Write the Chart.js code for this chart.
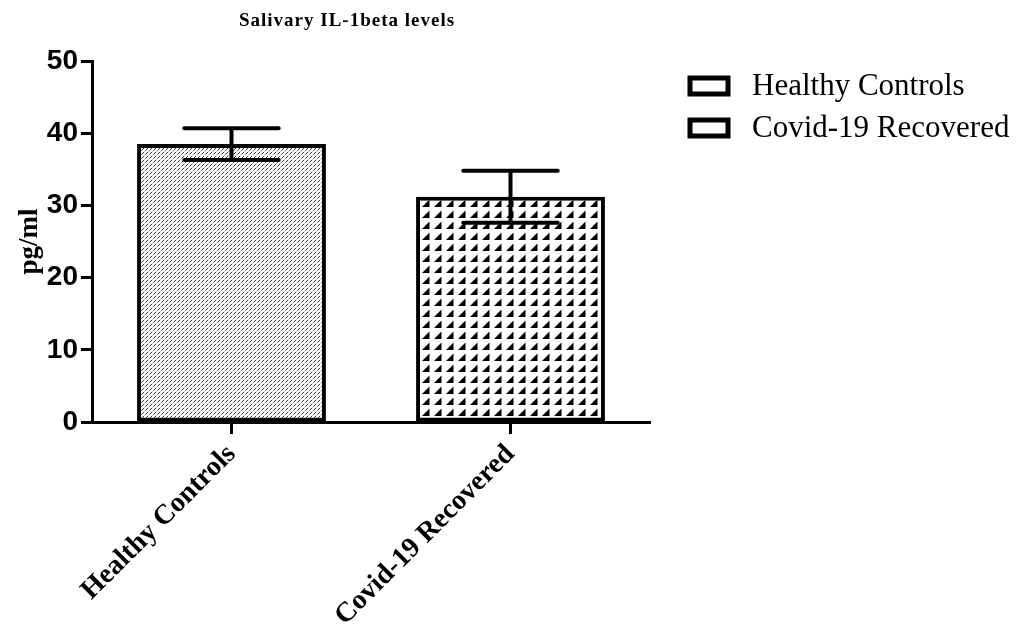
<!DOCTYPE html>
<html>
<head>
<meta charset="utf-8">
<script src="https://cdn.jsdelivr.net/npm/chart.js@4"></script>
<style>
  body { margin: 0; background: #fff; }
  #wrap { width: 1017px; height: 625px; }
</style>
</head>
<body>
<div id="wrap"><canvas id="chart"></canvas></div>
<script>
// data
const categories = ["Healthy Controls", "Covid-19 Recovered"];
const means = [38.5, 31.2];
const errors = [2.2, 3.6];
const yTicks = [0, 10, 20, 30, 40, 50];
const chartTitle = "Salivary IL-1beta levels";
const yTitle = "pg/ml";

// fill patterns
function stipple() {
  var c = document.createElement("canvas");
  c.width = 4; c.height = 4;
  var g = c.getContext("2d");
  g.fillStyle = "#fff";
  g.fillRect(0, 0, 4, 4);
  g.fillStyle = "#333";
  g.fillRect(3, 0, 1, 1);
  g.fillRect(2, 1, 1, 1);
  g.fillStyle = "#777";
  g.fillRect(1, 2, 1, 1);
  g.fillStyle = "#bbb";
  g.fillRect(0, 3, 1, 1);
  return g.createPattern(c, "repeat");
}
function triangles() {
  var c = document.createElement("canvas");
  c.width = 12; c.height = 11;
  var g = c.getContext("2d");
  g.fillStyle = "#fff";
  g.fillRect(0, 0, 12, 11);
  g.fillStyle = "#000";
  g.beginPath();
  g.moveTo(2, 9);
  g.lineTo(9.5, 9);
  g.lineTo(9.5, 1.5);
  g.closePath();
  g.fill();
  return g.createPattern(c, "repeat");
}
const fills = [stipple(), triangles()];

const errorBars = {
  id: "errorBars",
  afterDatasetsDraw(chart) {
    var ctx = chart.ctx;
    var meta = chart.getDatasetMeta(0);
    var y = chart.scales.y;
    ctx.save();
    ctx.strokeStyle = "#000";
    ctx.lineWidth = 4;
    ctx.lineCap = "round";
    meta.data.forEach(function (bar, i) {
      var top = y.getPixelForValue(means[i] + errors[i]);
      var bot = y.getPixelForValue(means[i] - errors[i]);
      var half = bar.width / 4;
      ctx.beginPath();
      ctx.moveTo(bar.x, bot); ctx.lineTo(bar.x, top);
      ctx.moveTo(bar.x - half, top); ctx.lineTo(bar.x + half, top);
      ctx.moveTo(bar.x - half, bot); ctx.lineTo(bar.x + half, bot);
      ctx.stroke();
    });
    ctx.restore();
  }
};

const extras = {
  id: "extras",
  afterDraw(chart) {
    var ctx = chart.ctx;
    var area = chart.chartArea;
    ctx.save();
    ctx.fillStyle = "#000";
    // title
    ctx.font = "bold 19px 'Liberation Serif'";
    ctx.letterSpacing = "1px";
    ctx.textAlign = "center";
    ctx.textBaseline = "middle";
    ctx.fillText(chartTitle, 347, 21);
    ctx.letterSpacing = "0px";
    // y title
    ctx.save();
    ctx.translate(30, (area.top + area.bottom) / 2);
    ctx.rotate(-Math.PI / 2);
    ctx.font = "bold 27px 'Liberation Serif'";
    ctx.fillText(yTitle, 0, 0);
    ctx.restore();
    // legend
    ctx.textAlign = "left";
    ctx.font = "31px 'Liberation Serif'";
    categories.forEach(function (lab, i) {
      var cy = 86 + i * 42;
      ctx.lineWidth = 5;
      ctx.strokeStyle = "#000";
      ctx.fillStyle = "#fff";
      ctx.beginPath();
      ctx.rect(690, cy - 8, 38, 16);
      ctx.fill();
      ctx.stroke();
      ctx.fillStyle = "#000";
      ctx.fillText(lab, 752, cy + 1);
    });
    ctx.restore();
  }
};

new Chart(document.getElementById("chart"), {
  type: "bar",
  data: {
    labels: categories,
    datasets: [{
      data: means,
      backgroundColor: fills,
      borderColor: "#000",
      borderWidth: 4,
      borderSkipped: false,
      barPercentage: 0.677,
      categoryPercentage: 1
    }]
  },
  options: {
    responsive: true,
    maintainAspectRatio: false,
    animation: false,
    layout: { padding: { top: 61, right: 367, left: 0, bottom: 0 } },
    plugins: {
      legend: { display: false },
      tooltip: { enabled: false }
    },
    scales: {
      x: {
        offset: true,
        grid: {
          display: true,
          offset: false,
          drawOnChartArea: false,
          drawTicks: true,
          tickLength: 12,
          tickWidth: 3,
          color: "#000"
        },
        border: { display: true, color: "#000", width: 3 },
        ticks: {
          color: "#000",
          minRotation: 45,
          maxRotation: 45,
          padding: 4,
          font: { family: "'Liberation Serif'", weight: "bold", size: 28 }
        },
        afterFit(scale) { scale.height = 203; }
      },
      y: {
        min: 0,
        max: 50,
        afterBuildTicks(scale) { scale.ticks = yTicks.map(function (v) { return { value: v }; }); },
        grid: {
          display: true,
          drawOnChartArea: false,
          drawTicks: true,
          tickLength: 11,
          tickWidth: 3,
          color: "#000"
        },
        border: { display: true, color: "#000", width: 3 },
        ticks: {
          color: "#000",
          padding: 3,
          font: { family: "'Liberation Sans'", weight: "bold", size: 28 }
        },
        afterFit(scale) { scale.width = 92; }
      }
    }
  },
  plugins: [errorBars, extras]
});
</script>
</body>
</html>
